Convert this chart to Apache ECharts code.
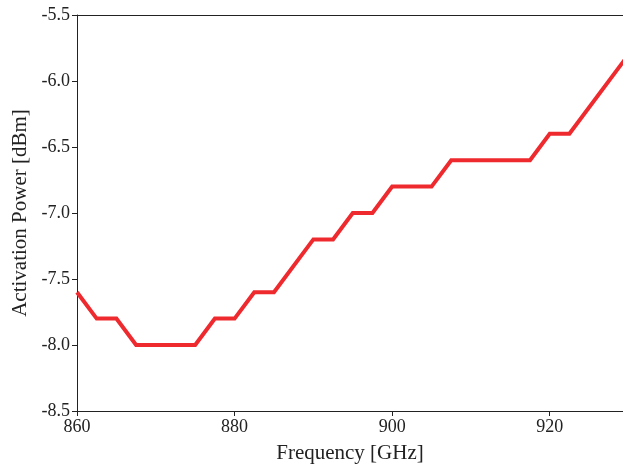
<!DOCTYPE html>
<html>
<head>
<meta charset="utf-8">
<script src="https://cdn.jsdelivr.net/npm/echarts@6/dist/echarts.min.js"></script>
<style>html,body{margin:0;padding:0;background:#fff;}#c{width:623px;height:469px;}</style>
</head>
<body>
<div id="c"></div>
<script>
const freq = [860, 862.5, 865, 867.5, 875, 877.5, 880, 882.5, 885, 890, 892.5, 895, 897.5, 900, 905, 907.5, 917.5, 920, 922.5, 930];
const power = [-7.6, -7.8, -7.8, -8.0, -8.0, -7.8, -7.8, -7.6, -7.6, -7.2, -7.2, -7.0, -7.0, -6.8, -6.8, -6.6, -6.6, -6.4, -6.4, -5.8];
const xTicks = [860, 880, 900, 920];
const yTicks = [-8.5, -8.0, -7.5, -7.0, -6.5, -6.0, -5.5];

const font = 'Liberation Serif';
const chart = echarts.init(document.getElementById('c'), null, {renderer: 'canvas'});
chart.setOption({
  animation: false,
  backgroundColor: '#fff',
  grid: {left: 77, right: 0, top: 15, bottom: 57},
  xAxis: [{
    type: 'value', min: 860, max: 929.3,
    name: 'Frequency [GHz]', nameLocation: 'middle', nameGap: 32,
    nameTextStyle: {fontFamily: font, fontSize: 21, color: '#222'},
    axisLine: {show: true, lineStyle: {color: '#222', width: 1}},
    axisTick: {show: true, inside: false, length: 5, customValues: xTicks, lineStyle: {color: '#222'}},
    axisLabel: {fontFamily: font, fontSize: 18, color: '#222', margin: 7, customValues: xTicks,
      formatter: v => String(v)},
    splitLine: {show: false}
  }, {
    type: 'value', min: 860, max: 929.3, position: 'top',
    axisLine: {show: true, onZero: false, lineStyle: {color: '#222', width: 1}},
    axisTick: {show: false}, axisLabel: {show: false}, splitLine: {show: false}
  }],
  yAxis: {
    type: 'value', min: -8.5, max: -5.5, interval: 0.5,
    name: 'Activation Power [dBm]', nameLocation: 'middle', nameGap: 45,
    nameTextStyle: {fontFamily: font, fontSize: 21, color: '#222'},
    axisLine: {show: true, lineStyle: {color: '#222', width: 1}},
    axisTick: {show: true, inside: false, length: 5, lineStyle: {color: '#222'}},
    axisLabel: {fontFamily: font, fontSize: 18, color: '#222', margin: 7,
      formatter: v => v.toFixed(1)},
    splitLine: {show: false}
  },
  series: [{
    type: 'line',
    xAxisIndex: 0,
    data: freq.map((f, i) => [f, power[i]]),
    showSymbol: false,
    lineStyle: {color: '#ee2a2f', width: 4, join: 'miter'},
    itemStyle: {color: '#ee2a2f'},
    clip: true
  }]
});
</script>
</body>
</html>
